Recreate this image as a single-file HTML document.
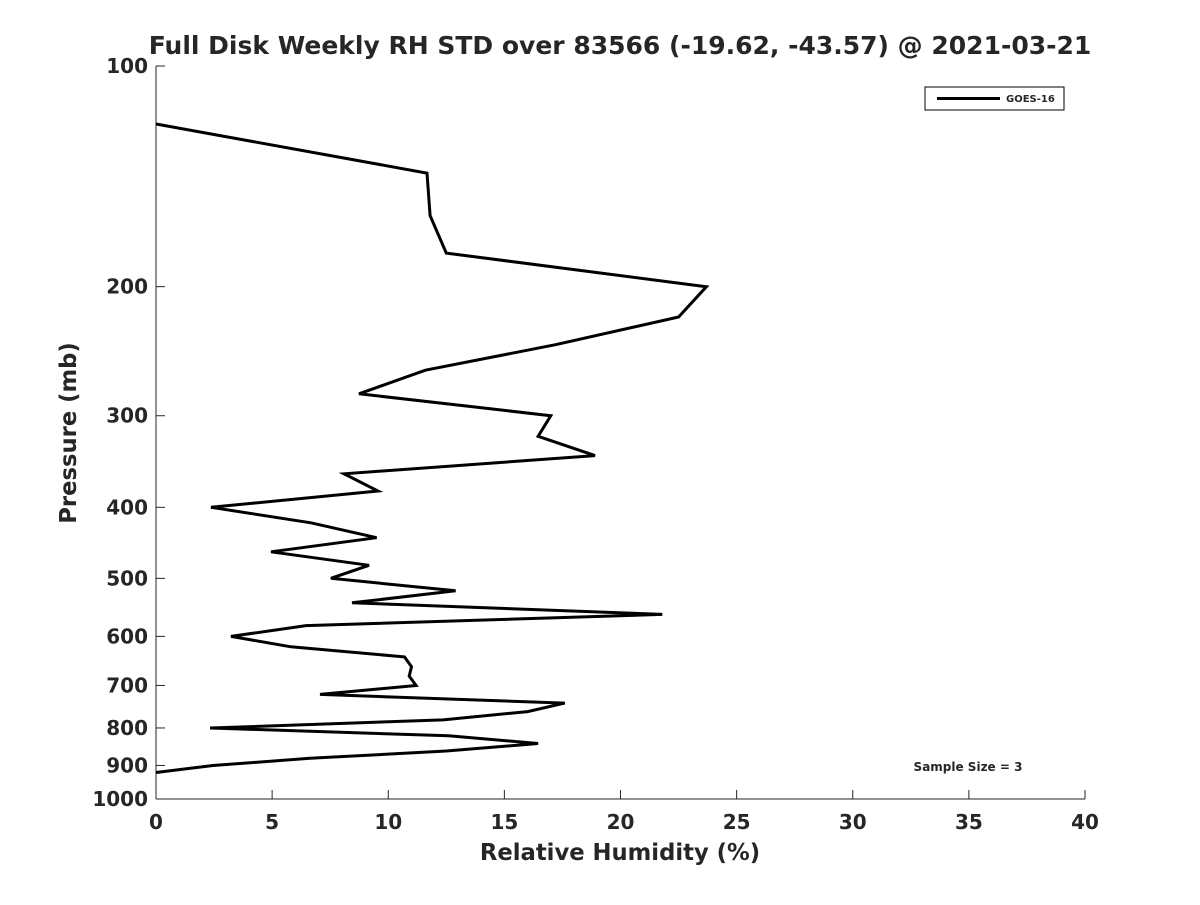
<!DOCTYPE html>
<html><head><meta charset="utf-8"><style>
body{margin:0;background:#fff;}
svg text{font-family:"DejaVu Sans","Liberation Sans",sans-serif;font-weight:bold;fill:#262626;}
</style></head><body>
<svg id="chart" width="1200" height="900" xmlns="http://www.w3.org/2000/svg">
<text x="620" y="54" text-anchor="middle" font-size="25">Full Disk Weekly RH STD over 83566 (-19.62, -43.57) @ 2021-03-21</text>
<g id="axes"></g>
<path id="line" fill="none" stroke="#000" stroke-width="3" stroke-linejoin="miter"></path>
<g>
<rect x="925" y="87" width="139" height="23" fill="#fff" stroke="#000" stroke-width="1"></rect>
<line x1="937" y1="98.5" x2="1000" y2="98.5" stroke="#000" stroke-width="3"></line>
<text x="1006" y="102" font-size="10">GOES-16</text>
</g>
<text x="968" y="771" text-anchor="middle" font-size="12">Sample Size = 3</text>
<text x="620" y="860" text-anchor="middle" font-size="22.7">Relative Humidity (%)</text>
<text x="76" y="433" text-anchor="middle" font-size="22.7" transform="rotate(-90 76 433)">Pressure (mb)</text>
</svg>
<script>
const pressures=[120,140,160,180,200,220,240,260,280,300,320,340,360,380,400,420,440,460,480,500,520,540,560,580,600,620,640,660,680,700,720,740,760,780,800,820,840,860,880,900,920];
const rhValues=[0,11.67,11.8,12.5,23.7,22.5,17.2,11.6,8.74,17.0,16.45,18.9,8.1,9.56,2.37,6.67,9.5,4.95,9.17,7.53,12.9,8.44,21.8,6.46,3.23,5.81,10.7,11.0,10.9,11.2,7.06,17.6,16.0,12.36,2.33,12.6,16.45,12.5,6.63,2.45,0];
const xTicks=[0,5,10,15,20,25,30,35,40];
const yTicks=[100,200,300,400,500,600,700,800,900,1000];
const X0=156,X1=1085,Y0=66,Y1=799;
const xs=v=>X0+(v/40)*(X1-X0);
const ys=p=>Y0+Math.log10(p/100)*(Y1-Y0);
const NS="http://www.w3.org/2000/svg";
const ax=document.getElementById('axes');
function mk(t,a){const e=document.createElementNS(NS,t);for(const k in a)e.setAttribute(k,a[k]);ax.appendChild(e);return e;}
let e=mk('line',{x1:X0,y1:Y0,x2:X0,y2:Y1,stroke:'#262626','stroke-width':1});


e=mk('line',{x1:X0,y1:Y1,x2:X1,y2:Y1,stroke:'#262626','stroke-width':1});


xTicks.forEach(v=>{const x=xs(v);
mk('line',{x1:x,y1:Y1,x2:x,y2:Y1-9,stroke:'#262626'});
const t=mk('text',{x:x,y:Y1+30,'text-anchor':'middle','font-size':20});t.textContent=v;

});
yTicks.forEach(p=>{const y=ys(p);
mk('line',{x1:X0,y1:y,x2:X0+9,y2:y,stroke:'#262626'});
const t=mk('text',{x:X0-8,y:y+7,'text-anchor':'end','font-size':20});t.textContent=p;

});
document.getElementById('line').setAttribute('d',pressures.map((p,i)=>(i?'L':'M')+xs(rhValues[i]).toFixed(1)+','+ys(p).toFixed(1)).join(''));
</script>
</body></html>
